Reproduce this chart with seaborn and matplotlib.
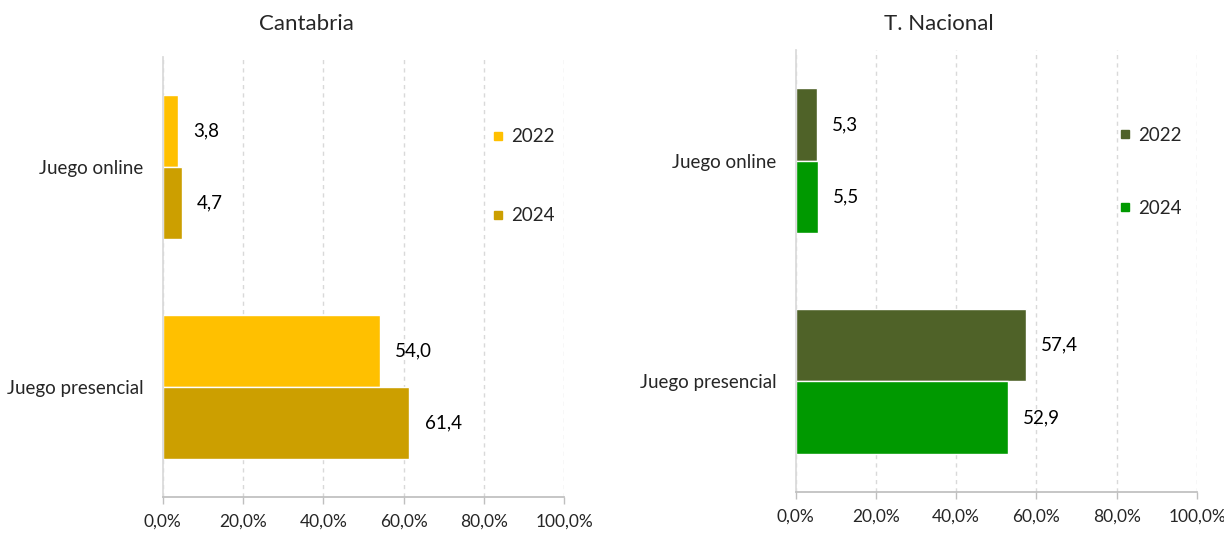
import pandas as pd
import matplotlib.pyplot as plt
import seaborn as sns
from matplotlib.lines import Line2D

# Data (percent)
categorias = ['Juego online', 'Juego presencial']
years = ['2022', '2024']
cantabria_2022 = [3.8, 54.0]
cantabria_2024 = [4.7, 61.4]
nacional_2022 = [5.3, 57.4]
nacional_2024 = [5.5, 52.9]

colors_cant = ['#FFC000', '#CC9F00']
colors_nac = ['#4F6228', '#009900']

sns.set_theme(style='white')
plt.rcParams['font.family'] = ['Lato', 'DejaVu Sans']


def make_df(v22, v24):
    return pd.DataFrame({
        'cat': categorias * 2,
        'year': [years[0]] * 2 + [years[1]] * 2,
        'val': list(v22) + list(v24),
    })


fig = plt.figure(figsize=(12.24, 5.33), dpi=100)
ax1 = fig.add_axes([0.133, 0.0675, 0.328, 0.8255])
ax2 = fig.add_axes([0.650, 0.077, 0.328, 0.829])

panels = [
    (ax1, 'Cantabria', 306, cantabria_2022, cantabria_2024, colors_cant, 3.3, (0.77, 0.876)),
    (ax2, 'T. Nacional', 939, nacional_2022, nacional_2024, colors_nac, 3.0, (0.755, 0.865)),
]

for ax, title, tx, v22, v24, cols, spacing, anchor in panels:
    df = make_df(v22, v24)
    sns.barplot(data=df, y='cat', x='val', hue='year', orient='h',
                palette=cols, saturation=1, width=0.655, edgecolor='white',
                linewidth=1, ax=ax, legend=False)
    for cont in ax.containers:
        ax.bar_label(cont, labels=[f'{v:.1f}'.replace('.', ',') for v in cont.datavalues],
                     padding=11, fontsize=13.5, color='black')
    ax.set_xlim(0, 100)
    ax.set_ylim(1.5, -0.5)
    ax.set_xticks([0, 20, 40, 60, 80, 100])
    ax.set_xticklabels([f'{t:.1f}%'.replace('.', ',') for t in [0, 20, 40, 60, 80, 100]],
                       fontsize=12.5)
    ax.set_yticks([0, 1])
    ax.set_yticklabels(categorias, fontsize=13.5)
    ax.set_yticks([-0.5, 0.5, 1.5], minor=True)
    ax.tick_params(axis='y', which='major', length=0, pad=14)
    ax.tick_params(axis='y', which='minor', length=6, color='#D9D9D9', width=1)
    ax.tick_params(axis='x', length=5, color='#BFBFBF', width=1, pad=7, bottom=True)
    ax.set_xlabel('')
    ax.set_ylabel('')
    fig.text(tx / 1224, 1 - 24 / 533, title, fontsize=16, ha='center', va='center')
    ax.xaxis.grid(True, linestyle=(0, (3, 3)), color='#D9D9D9', linewidth=1)
    ax.set_axisbelow(True)
    for s in ['top', 'right']:
        ax.spines[s].set_visible(False)
    ax.spines['left'].set_color('#D9D9D9')
    ax.spines['bottom'].set_color('#BFBFBF')
    handles = [Line2D([], [], marker='s', linestyle='', markersize=6, color=c) for c in cols]
    ax.legend(handles, years, loc='upper left', bbox_to_anchor=anchor,
              frameon=False, fontsize=13.5, labelspacing=spacing,
              handletextpad=0.2, handlelength=1)

fig.savefig('out.png', dpi=100, facecolor='white')
